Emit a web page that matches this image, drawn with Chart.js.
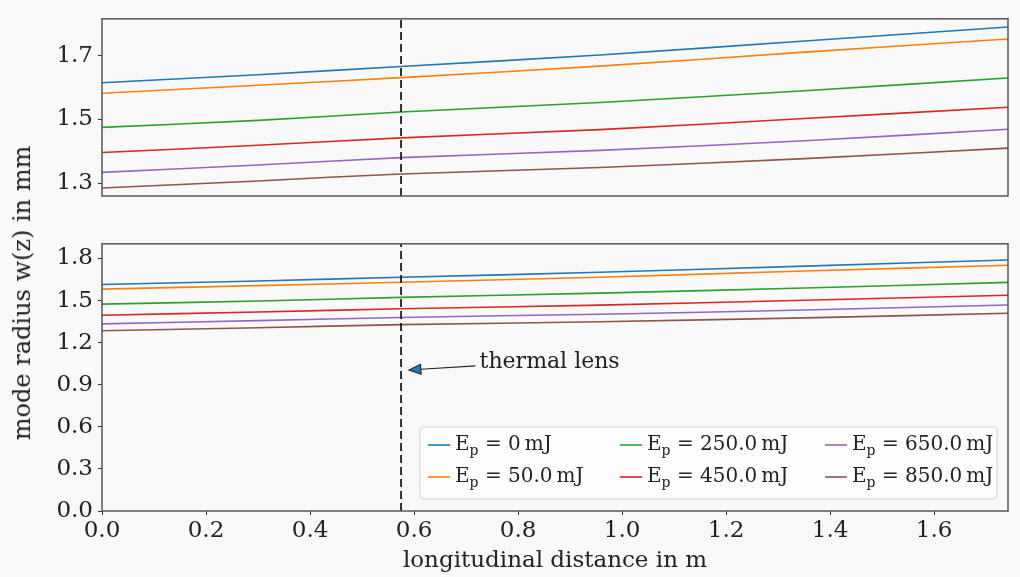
<!DOCTYPE html>
<html>
<head>
<meta charset="utf-8">
<script src="https://cdn.jsdelivr.net/npm/chart.js@4/dist/chart.umd.min.js"></script>
<style>
  html, body { margin: 0; padding: 0; background: #f9f9f9; }
  #wrap { position: relative; width: 1020px; height: 577px; background: #f9f9f9; overflow: hidden; }
  #wrap canvas { position: absolute; left: 0; }
  #topChart { top: 0; }
  #bottomChart { top: 225px; }
  #yTitle {
    position: absolute; left: 22px; top: 293px;
    transform: translate(-50%, -50%) rotate(-90deg);
    white-space: nowrap; font: 24px 'DejaVu Serif', serif; color: #222;
  }
</style>
</head>
<body>
<div id="wrap">
  <canvas id="topChart" width="1020" height="215"></canvas>
  <canvas id="bottomChart" width="1020" height="352"></canvas>
  <div id="yTitle">mode radius w(z) in mm</div>
</div>
<script>
// longitudinal positions (m) and mode radius (mm) per pump energy
const zPos = [0, 0.3, 0.575, 0.957, 1.351, 1.742];
const energies = [0, 50, 250, 450, 650, 850];
const w0 = [1.615, 1.640, 1.666, 1.702, 1.746, 1.790];
const w50 = [1.582, 1.607, 1.631, 1.667, 1.711, 1.752];
const w250 = [1.475, 1.497, 1.523, 1.553, 1.590, 1.630];
const w450 = [1.396, 1.419, 1.442, 1.468, 1.503, 1.538];
const w650 = [1.334, 1.357, 1.380, 1.403, 1.433, 1.469];
const w850 = [1.285, 1.307, 1.329, 1.349, 1.377, 1.410];
const radii = [w0, w50, w250, w450, w650, w850];

// position of the thermal lens (m)
const lensZ = 0.575;

// axis ticks
const xTicks = [0, 0.2, 0.4, 0.6, 0.8, 1.0, 1.2, 1.4, 1.6];
const topYTicks = [1.3, 1.5, 1.7];
const bottomYTicks = [0, 0.3, 0.6, 0.9, 1.2, 1.5, 1.8];

const colors = ['#1f77b4', '#ff7f0e', '#2ca02c', '#d62728', '#9467bd', '#8c564b'];
const FONT = "'DejaVu Serif', serif";
const X_MAX = 1.742;

function energyText(e) {
  return (e === 0 ? '0' : e.toFixed(1)) + '\u2009mJ';
}

function buildDatasets(yMin, yMax) {
  const sets = radii.map((arr, i) => ({
    label: 'E_p = ' + energyText(energies[i]),
    data: zPos.map((z, k) => ({ x: z, y: arr[k] })),
    borderColor: colors[i],
    borderWidth: 1.6,
    pointRadius: 0,
    tension: 0.3,
    fill: false
  }));
  // dashed marker at the lens
  sets.push({
    label: 'lens',
    data: [{ x: lensZ, y: yMin }, { x: lensZ, y: yMax }],
    borderColor: '#111',
    borderWidth: 1.7,
    borderDash: [8, 4],
    pointRadius: 0,
    order: -1
  });
  return sets;
}

// axes frame on all four sides
const framePlugin = {
  id: 'frame',
  afterDraw(chart) {
    const { ctx, chartArea: a } = chart;
    ctx.save();
    ctx.strokeStyle = '#555';
    ctx.lineWidth = 1.5;
    ctx.strokeRect(a.left, a.top, a.right - a.left, a.bottom - a.top);
    ctx.restore();
  }
};

// three-column legend with subscripted E_p
const legendPlugin = {
  id: 'epLegend',
  afterDraw(chart) {
    const { ctx, chartArea: a } = chart;
    const boxW = 577, boxH = 72;
    const bx = a.right - 11 - boxW, by = a.bottom - 12 - boxH;
    ctx.save();
    ctx.beginPath();
    ctx.roundRect(bx, by, boxW, boxH, 4);
    ctx.fillStyle = 'rgba(255,255,255,0.8)';
    ctx.fill();
    ctx.strokeStyle = '#d0d0d0';
    ctx.lineWidth = 1;
    ctx.stroke();
    const colX = [8, 200, 405];
    const rowY = [18, 50];
    energies.forEach((e, i) => {
      const col = Math.floor(i / 2), row = i % 2;
      const x = bx + colX[col], y = by + rowY[row];
      ctx.strokeStyle = colors[i];
      ctx.lineWidth = 1.6;
      ctx.beginPath();
      ctx.moveTo(x, y);
      ctx.lineTo(x + 22, y);
      ctx.stroke();
      ctx.fillStyle = '#222';
      ctx.textBaseline = 'middle';
      let tx = x + 27;
      ctx.font = '20px ' + FONT;
      ctx.fillText('E', tx, y);
      tx += ctx.measureText('E').width;
      ctx.font = '14px ' + FONT;
      ctx.fillText('p', tx, y + 6);
      tx += ctx.measureText('p').width;
      ctx.font = '20px ' + FONT;
      ctx.fillText(' = ' + energyText(e), tx, y);
    });
    ctx.restore();
  }
};

// "thermal lens" label with arrow pointing at the dashed line
const lensNote = { text: 'thermal lens', tx: 0.726, ty: 1.02, tailX: 0.718, tailY: 1.035, tipX: 0.59, tipY: 1.005 };
const notePlugin = {
  id: 'lensNote',
  afterDatasetsDraw(chart) {
    const { ctx, scales: { x, y } } = chart;
    const x1 = x.getPixelForValue(lensNote.tailX), y1 = y.getPixelForValue(lensNote.tailY);
    const x2 = x.getPixelForValue(lensNote.tipX), y2 = y.getPixelForValue(lensNote.tipY);
    const ang = Math.atan2(y2 - y1, x2 - x1);
    const hl = 12, hw = 5;
    const bxp = x2 - hl * Math.cos(ang), byp = y2 - hl * Math.sin(ang);
    ctx.save();
    ctx.strokeStyle = '#222';
    ctx.lineWidth = 1.1;
    ctx.beginPath();
    ctx.moveTo(x1, y1);
    ctx.lineTo(bxp, byp);
    ctx.stroke();
    ctx.beginPath();
    ctx.moveTo(x2, y2);
    ctx.lineTo(bxp + hw * Math.sin(ang), byp - hw * Math.cos(ang));
    ctx.lineTo(bxp - hw * Math.sin(ang), byp + hw * Math.cos(ang));
    ctx.closePath();
    ctx.fillStyle = '#1f77b4';
    ctx.fill();
    ctx.stroke();
    ctx.fillStyle = '#222';
    ctx.font = '22px ' + FONT;
    ctx.textBaseline = 'alphabetic';
    ctx.fillText(lensNote.text, x.getPixelForValue(lensNote.tx), y.getPixelForValue(lensNote.ty));
    ctx.restore();
  }
};

const tickFont = { family: FONT, size: 23 };
const tickGrid = { drawOnChartArea: false, drawTicks: true, tickLength: 4, color: '#333', lineWidth: 1 };

function yScale(min, max, ticks) {
  return {
    type: 'linear', min, max,
    afterBuildTicks: s => { s.ticks = ticks.map(v => ({ value: v })); },
    afterFit: s => { s.width = 102; },
    ticks: { font: tickFont, color: '#222', padding: 5, callback: v => v.toFixed(1) },
    grid: tickGrid,
    border: { display: false }
  };
}

const TOP_MIN = 1.2598, TOP_MAX = 1.8155;
new Chart(document.getElementById('topChart'), {
  type: 'line',
  data: { datasets: buildDatasets(TOP_MIN, TOP_MAX) },
  options: {
    responsive: false, animation: false, devicePixelRatio: 1,
    layout: { padding: { top: 16, right: 12, bottom: 19, left: 0 } },
    plugins: { legend: { display: false }, tooltip: { enabled: false } },
    scales: {
      x: { type: 'linear', min: 0, max: X_MAX, display: false },
      y: yScale(TOP_MIN, TOP_MAX, topYTicks)
    }
  },
  plugins: [framePlugin]
});

const BOT_MIN = 0, BOT_MAX = 1.905;
new Chart(document.getElementById('bottomChart'), {
  type: 'line',
  data: { datasets: buildDatasets(BOT_MIN, BOT_MAX) },
  options: {
    responsive: false, animation: false, devicePixelRatio: 1,
    layout: { padding: { top: 16, right: 12, bottom: 0, left: 0 } },
    plugins: { legend: { display: false }, tooltip: { enabled: false } },
    scales: {
      x: {
        type: 'linear', min: 0, max: X_MAX,
        afterBuildTicks: s => { s.ticks = xTicks.map(v => ({ value: v })); },
        afterFit: s => { s.height = 66; },
        ticks: { font: tickFont, color: '#222', padding: 2, maxRotation: 0, callback: v => v.toFixed(1) },
        grid: tickGrid,
        border: { display: false },
        title: { display: true, text: 'longitudinal distance in m', font: tickFont, color: '#222', padding: { top: 0, bottom: 2 } }
      },
      y: yScale(BOT_MIN, BOT_MAX, bottomYTicks)
    }
  },
  plugins: [framePlugin, notePlugin, legendPlugin]
});
</script>
</body>
</html>
